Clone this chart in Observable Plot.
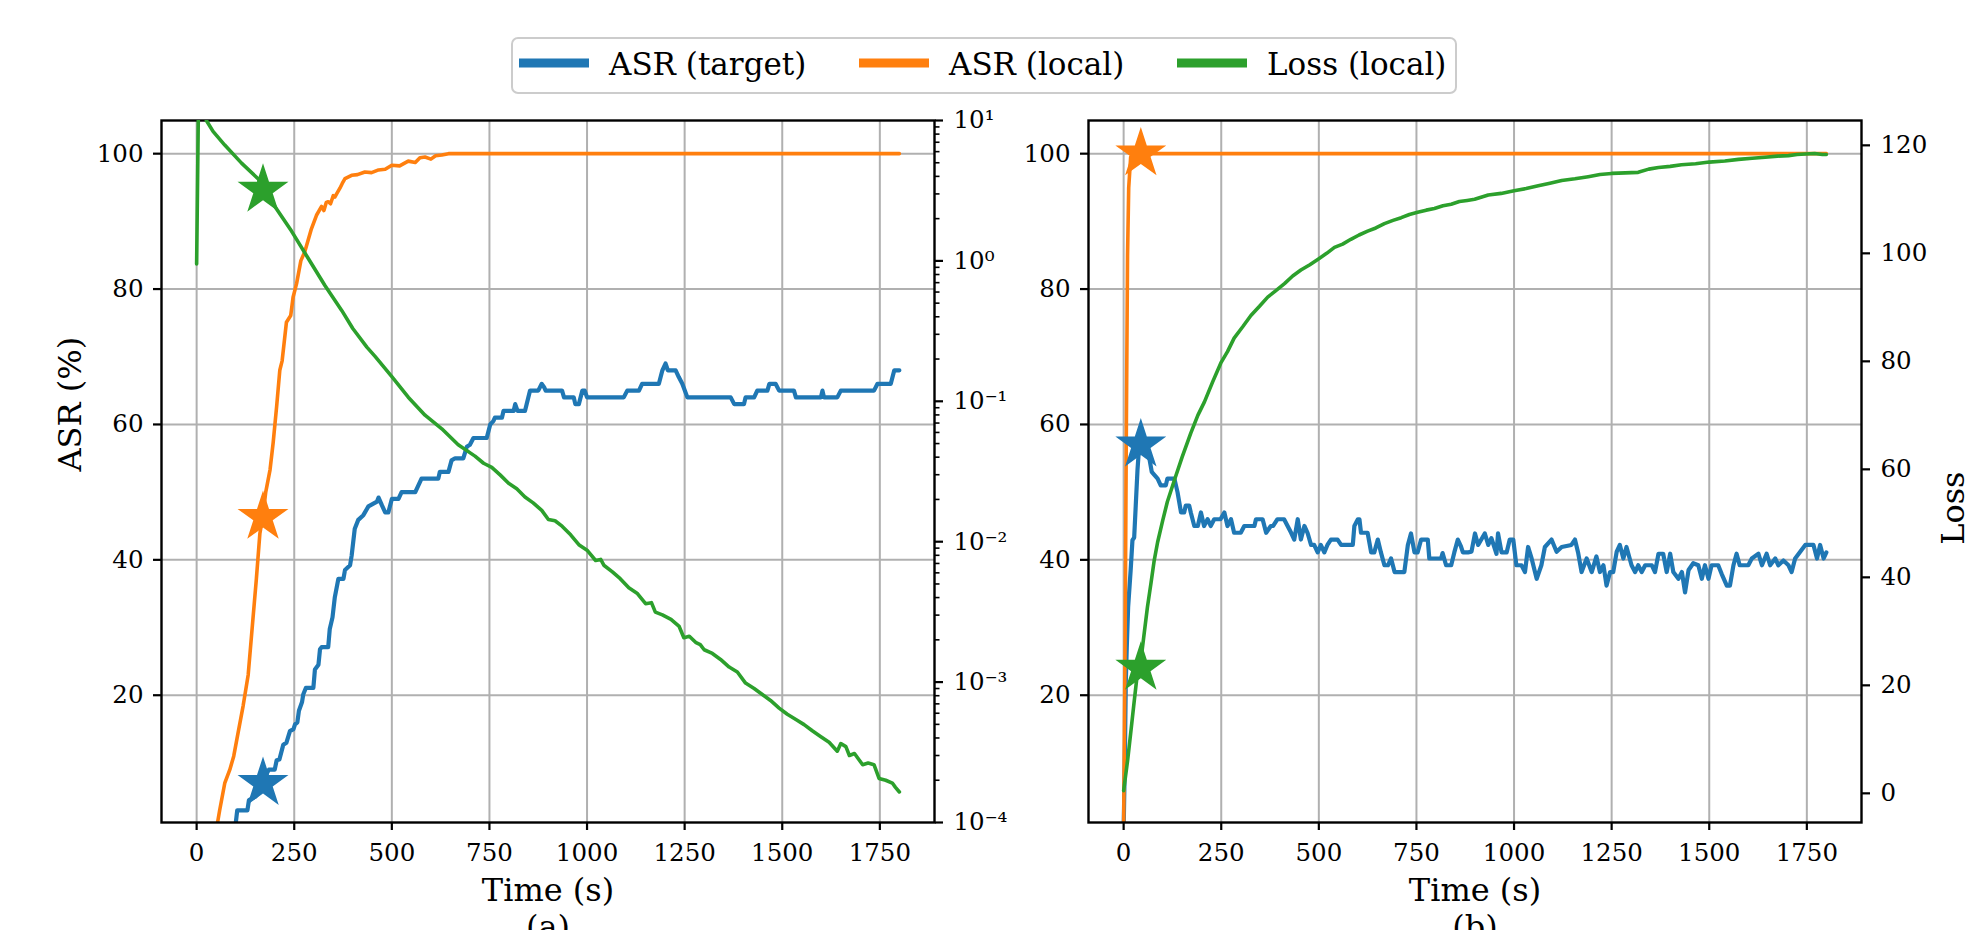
<!DOCTYPE html>
<html>
<head>
<meta charset="utf-8">
<script src="https://cdn.jsdelivr.net/npm/d3@7"></script>
<script src="https://cdn.jsdelivr.net/npm/@observablehq/plot@0.6"></script>
<style>
html, body { margin: 0; padding: 0; background: #fff; }
#fig { position: relative; width: 1978px; height: 930px; overflow: hidden; font-family: "DejaVu Serif"; background: #fff; }
.layer { position: absolute; top: 0; }
</style>
</head>
<body>
<div id="fig"></div>
<script>
// ---------------- data ----------------
const seriesNames = ["ASR (target)", "ASR (local)", "Loss (local)"];
const seriesColors = ["#1f77b4", "#ff7f0e", "#2ca02c"];
const xTicks = [0, 250, 500, 750, 1000, 1250, 1500, 1750];
const xTickLabels = ["0", "250", "500", "750", "1000", "1250", "1500", "1750"];
const asrTicks = [20, 40, 60, 80, 100];
const asrTickLabels = ["20", "40", "60", "80", "100"];
const logLossTicks = [1e-4, 1e-3, 1e-2, 1e-1, 1, 10];
const logLossTickLabels = ["10⁻⁴", "10⁻³", "10⁻²", "10⁻¹", "10⁰", "10¹"];
const logLossMinorTicks = [2e-4,3e-4,4e-4,5e-4,6e-4,7e-4,8e-4,9e-4,
  2e-3,3e-3,4e-3,5e-3,6e-3,7e-3,8e-3,9e-3,
  2e-2,3e-2,4e-2,5e-2,6e-2,7e-2,8e-2,9e-2,
  0.2,0.3,0.4,0.5,0.6,0.7,0.8,0.9,
  2,3,4,5,6,7,8,9];
const linLossTicks = [0, 20, 40, 60, 80, 100, 120];
const linLossTickLabels = ["0", "20", "40", "60", "80", "100", "120"];
const xLabel = "Time (s)";
const asrLabel = "ASR (%)";
const lossLabel = "Loss";
const panelCaptions = ["(a)", "(b)"];

// star markers: [panel a, panel b]
const starTimes = [170, 44];
const starTarget = [7, 57];
const starLocal = [46.3, 100];
const starLoss = [3.2, 23.2];

// panel (a): [time, value]
const leftTarget = [[0,0],[98,0],[102,2],[104,3],[130,3],[134,4.5],[150,5],[165,6],[180,8.5],[185,9],[200,9],[205,10.4],[212,10.5],[222,12.7],[230,13],[239,14.7],[248,15],[252,15.7],[258,16],[262,17.7],[270,19],[273,20.1],[280,21.1],[299,21.1],[303,23.8],[312,24.5],[316,26.8],[320,27.1],[337,27.1],[341,29.8],[348,31.5],[354,34.5],[363,37.2],[376,37.2],[380,38.5],[393,39.2],[397,40.6],[405,44.6],[414,45.9],[427,46.6],[440,47.9],[462,48.6],[466,49.2],[475,48],[483,47],[491,47],[500,49],[517,49],[525,50],[560,50],[568,51],[576,52],[619,52],[623,53],[645,53],[653,54.7],[662,55],[683,55],[692,56.7],[700,57],[709,58],[743,58],[752,60],[760,60.5],[764,61],[782,61],[786,62],[812,62],[816,63],[822,62],[841,62],[854,65],[875,65],[884,66],[890,65.5],[894,65],[936,65],[941,64],[966,64],[970,63],[979,63],[988,65],[994,65],[1000,64],[1094,64],[1103,65],[1133,65],[1141,66],[1184,66],[1193,68],[1201,69],[1207,68],[1227,68],[1235,67],[1244,66],[1257,64],[1368,64],[1377,63],[1402,63],[1406,64],[1428,64],[1436,65],[1462,65],[1467,66],[1483,66],[1492,65],[1530,65],[1535,64],[1599,64],[1603,65],[1607,64],[1641,64],[1650,65],[1735,65],[1744,66],[1778,66],[1787,68],[1800,68]];
const leftLocal = [[0,0],[50,0],[59,3],[72,7],[85,9],[95,11],[106,14.4],[119,18.4],[132,23],[145,31.8],[153,37.2],[162,43.9],[170,46.6],[177,50],[188,53.3],[196,57.3],[205,62.7],[213,68],[219,69.4],[230,75.1],[241,76.1],[247,78.8],[256,80.8],[267,84.2],[277,85.5],[294,88.9],[307,90.9],[320,92.2],[326,91.6],[332,92.8],[337,92.9],[343,92.6],[350,93.8],[354,93.6],[360,94.2],[367,94.9],[373,95.6],[380,96.3],[397,96.8],[412,96.9],[431,97.3],[448,97.2],[466,97.6],[483,97.7],[500,98.3],[520,98.2],[542,98.9],[560,98.7],[572,99.4],[585,99.5],[600,99.2],[612,99.7],[628,99.8],[645,100],[1800,100]];
const leftLoss = [[0,0.95],[5,16],[25,10],[42,8.36],[72,6.68],[115,4.97],[158,3.83],[170,3.3],[200,2.45],[243,1.63],[286,1.04],[329,0.665],[372,0.442],[400,0.330],[436,0.243],[457,0.209],[500,0.150],[542,0.107],[585,0.0796],[628,0.0637],[670,0.0491],[713,0.0407],[735,0.0362],[756,0.0338],[778,0.0298],[799,0.0261],[820,0.0238],[841,0.0208],[862,0.0189],[884,0.0167],[901,0.0144],[918,0.0141],[936,0.0129],[958,0.0112],[979,0.00953],[1000,0.00870],[1022,0.00735],[1035,0.00748],[1043,0.00680],[1065,0.00610],[1085,0.00545],[1107,0.00470],[1128,0.00430],[1150,0.00362],[1165,0.00368],[1175,0.00315],[1193,0.00301],[1215,0.00280],[1236,0.00249],[1248,0.00207],[1262,0.00212],[1278,0.00192],[1290,0.00185],[1300,0.00170],[1321,0.00160],[1342,0.00145],[1364,0.00128],[1385,0.00118],[1406,0.000984],[1428,0.000900],[1449,0.000817],[1470,0.000740],[1492,0.000653],[1513,0.000590],[1535,0.000542],[1556,0.000498],[1577,0.000450],[1598,0.000410],[1620,0.000373],[1641,0.000322],[1650,0.000365],[1663,0.000347],[1672,0.000300],[1685,0.000310],[1706,0.000258],[1720,0.000265],[1735,0.000258],[1748,0.000206],[1765,0.000200],[1782,0.000191],[1790,0.000178],[1800,0.000165]];

// panel (b): [time, value]
const rightTarget = [[0,0],[3,10],[5.5,21.8],[8,27],[11.5,33],[18,38.5],[22.6,42.9],[27,43.3],[31,48],[35.5,53.3],[40,57],[44,59],[48,57.3],[55,56.5],[65,55.3],[72,53],[78,52.6],[87,52],[95,51],[108,51],[112,52],[130,52],[138,50],[147,47],[155,47],[159,48],[168,48],[172,47],[181,45],[190,45],[194,46],[198,47],[206,45],[215,46],[223,45],[232,46],[248,46],[258,47],[266,45],[275,46],[283,44],[300,44],[309,45],[335,45],[339,46],[356,46],[365,44],[377,45],[383,45],[394,46],[411,46],[420,45],[429,44],[437,43],[446,46],[454,43],[463,45],[471,44],[480,42.2],[488,42.2],[497,41.1],[505,42.2],[514,41.1],[522,42.2],[531,43],[548,43],[557,42.2],[587,42.2],[591,45],[600,46],[604,46],[608,44],[625,44],[634,41.1],[642,41.1],[651,43],[659,41.1],[668,39.2],[677,39.2],[685,40.2],[694,38.2],[719,38.2],[728,42.2],[736,43.9],[745,41.1],[753,41.1],[762,43],[779,43],[783,40.2],[813,40.2],[817,41],[826,39.2],[839,39.2],[847,41.1],[856,43],[864,42],[869,41.1],[882,41.1],[891,41.2],[900,43.9],[908,42.2],[925,43.9],[934,42.2],[942,43.2],[955,40.9],[959,43.9],[968,41.1],[981,41.1],[989,43],[998,43],[1006,39.2],[1019,39.2],[1028,38.2],[1036,41.9],[1045,40.2],[1058,37.2],[1070,39.2],[1079,41.9],[1096,43],[1109,41.2],[1122,41.9],[1147,42.2],[1156,43],[1164,41.1],[1173,38.2],[1186,40.2],[1199,38.2],[1211,40.5],[1220,38.2],[1229,39.2],[1237,36.2],[1246,38.2],[1254,38.2],[1263,41.2],[1271,42.2],[1280,40.2],[1288,41.9],[1301,39.2],[1310,38.2],[1318,39.2],[1327,38.2],[1336,39.2],[1353,39.2],[1361,38.2],[1370,40.9],[1382,40.9],[1391,38.2],[1400,40.9],[1408,38.2],[1421,37.2],[1430,38.2],[1438,35.2],[1447,38.5],[1459,39.5],[1472,39.2],[1481,37.2],[1489,39.2],[1498,37.2],[1506,39.2],[1523,39.2],[1532,37.9],[1545,36.2],[1553,36.2],[1562,39.2],[1570,40.9],[1578,39.2],[1600,39.2],[1609,40.2],[1626,40.9],[1635,39.2],[1647,40.9],[1656,39.2],[1669,40.2],[1677,39.2],[1690,39.9],[1703,39.2],[1711,38.2],[1720,40.2],[1733,41.2],[1746,42.2],[1767,42.2],[1776,40.2],[1784,42.2],[1793,40.2],[1800,41.1]];
const rightLocal = [[0,0],[4,30],[7,60],[10,85],[13,95],[18,99.5],[25,100],[1800,100]];
const rightLoss = [[0,0.5],[10,6],[18,11.1],[27,17],[35,22.1],[44,24.5],[52.6,29.6],[61,34.5],[70,38.9],[78,43],[87,46.5],[100,50.5],[112,54],[131,58.2],[150,62.3],[172,66.7],[190,70],[207,72.5],[228,76.2],[249,79.7],[266,81.8],[283,84.3],[305,86.4],[326,88.5],[348,90.2],[369,91.9],[390,93.1],[412,94.4],[433,95.8],[454,96.9],[477,97.9],[500,99],[520,100],[540,101.1],[561,101.7],[582,102.6],[603,103.4],[625,104.1],[646,104.7],[668,105.5],[690,106.1],[711,106.6],[732,107.2],[753,107.6],[775,108],[796,108.3],[818,108.8],[839,109.1],[860,109.6],[880,109.8],[899,110],[934,110.8],[967,111.1],[1000,111.6],[1031,112],[1062,112.5],[1092,113],[1122,113.5],[1156,113.8],[1190,114.2],[1220,114.6],[1250,114.8],[1285,114.9],[1318,115],[1345,115.6],[1370,115.9],[1400,116.1],[1429,116.4],[1465,116.6],[1500,116.9],[1540,117.1],[1575,117.4],[1610,117.6],[1643,117.8],[1675,118],[1703,118.1],[1725,118.3],[1746,118.4],[1770,118.5],[1790,118.3],[1800,118.3]];

// ---------------- drawing ----------------
const FONT = "DejaVu Serif";
const H = 930, MT = 120, MB = 108;
const xDomain = [-90, 1890];
const STAR_R = 16;
const fig = document.getElementById("fig");

function lookup(ticks, labels) { return d => labels[ticks.indexOf(d)]; }

function basePlot(o) {
  return Plot.plot({
    width: o.width, height: H, marginLeft: o.mL, marginRight: o.mR, marginTop: MT, marginBottom: MB,
    x: {domain: xDomain},
    y: {domain: [1.2, 104.9]},
    style: {fontFamily: FONT, fontSize: "24.5px", background: "none", color: "black", overflow: "visible"},
    marks: [
      Plot.gridX({ticks: xTicks, stroke: "#b0b0b0", strokeOpacity: 1, strokeWidth: 2}),
      Plot.gridY({ticks: asrTicks, stroke: "#b0b0b0", strokeOpacity: 1, strokeWidth: 2}),
      Plot.line(o.target, {x: d => d[0], y: d => d[1], stroke: seriesColors[0], strokeWidth: 4.2, clip: true}),
      Plot.line(o.local, {x: d => d[0], y: d => d[1], stroke: seriesColors[1], strokeWidth: 3.6, clip: true}),
      Plot.dot([o.i], {x: i => starTimes[i], y: i => starTarget[i], symbol: "star", r: STAR_R, fill: seriesColors[0], stroke: "none"}),
      Plot.dot([o.i], {x: i => starTimes[i], y: i => starLocal[i], symbol: "star", r: STAR_R, fill: seriesColors[1], stroke: "none"}),
      Plot.axisX({ticks: xTicks, tickFormat: lookup(xTicks, xTickLabels), tickSize: 8, tickPadding: 13, strokeWidth: 2.2, label: null}),
      Plot.axisY({ticks: asrTicks, tickFormat: lookup(asrTicks, asrTickLabels), tickSize: 8, tickPadding: 10, strokeWidth: 2.2, label: null}),
      Plot.frame({stroke: "black", strokeWidth: 2.4}),
      Plot.text([xLabel], {text: d => d, frameAnchor: "bottom", dy: 78, lineAnchor: "bottom", fontSize: 32}),
      Plot.text([panelCaptions[o.i]], {text: d => d, frameAnchor: "bottom", dy: 115, lineAnchor: "bottom", fontSize: 32}),
      o.yLabel ? Plot.text([o.yLabel], {text: d => d, frameAnchor: "left", dx: -91, rotate: -90, fontSize: 32}) : null
    ]
  });
}

function lossPlot(o) {
  return Plot.plot({
    width: o.width, height: H, marginLeft: o.mL, marginRight: o.mR, marginTop: MT, marginBottom: MB,
    x: {domain: xDomain, axis: null},
    y: o.y,
    style: {fontFamily: FONT, fontSize: "24.5px", background: "none", color: "black", overflow: "visible"},
    marks: [
      o.minor ? Plot.axisY({anchor: "right", ticks: o.minor, tickSize: 4.5, strokeWidth: 1.6, fill: "none", tickFormat: () => "", label: null}) : null,
      Plot.axisY({anchor: "right", ticks: o.ticks, tickFormat: lookup(o.ticks, o.labels), tickSize: 8, tickPadding: 11, strokeWidth: 2.2, label: null}),
      Plot.line(o.loss, {x: d => d[0], y: d => d[1], stroke: seriesColors[2], strokeWidth: 3.6, clip: true}),
      Plot.dot([o.i], {x: i => starTimes[i], y: i => starLoss[i], symbol: "star", r: STAR_R, fill: seriesColors[2], stroke: "none"}),
      o.yLabel ? Plot.text([o.yLabel], {text: d => d, frameAnchor: "right", dx: 92, rotate: -90, fontSize: 32}) : null
    ]
  });
}

function place(svg, left) {
  const d = document.createElement("div");
  d.className = "layer";
  d.style.left = left + "px";
  d.appendChild(svg);
  fig.appendChild(d);
}

// panel (b) first, so panel (a)'s right-hand tick labels sit above it
place(basePlot({i: 1, width: 988, mL: 98, mR: 117, target: rightTarget, local: rightLocal, yLabel: null}), 990);
place(lossPlot({i: 1, width: 988, mL: 98, mR: 117, loss: rightLoss,
  y: {domain: [-5.4, 124.6]}, ticks: linLossTicks, labels: linLossTickLabels, yLabel: lossLabel}), 990);
// panel (a)
place(basePlot({i: 0, width: 990, mL: 161, mR: 56, target: leftTarget, local: leftLocal, yLabel: asrLabel}), 0);
place(lossPlot({i: 0, width: 990, mL: 161, mR: 56, loss: leftLoss,
  y: {type: "log", domain: [1e-4, 10]}, ticks: logLossTicks, labels: logLossTickLabels, minor: logLossMinorTicks}), 0);

// legend (above the plots)
const legendX = [519, 859, 1177];
const leg = d3.select(fig).append("svg").attr("class", "layer")
  .style("left", "0px").attr("width", 1978).attr("height", 110)
  .style("font-family", FONT);
leg.append("rect").attr("x", 512).attr("y", 38).attr("width", 944).attr("height", 55)
  .attr("rx", 6).attr("fill", "white").attr("fill-opacity", 0.8).attr("stroke", "#cccccc").attr("stroke-width", 2);
seriesNames.forEach((name, k) => {
  leg.append("line").attr("x1", legendX[k]).attr("x2", legendX[k] + 70).attr("y1", 63).attr("y2", 63)
    .attr("stroke", seriesColors[k]).attr("stroke-width", 9);
  leg.append("text").attr("x", legendX[k] + 90).attr("y", 75).attr("font-size", 31).attr("fill", "black").text(name);
});
</script>
</body>
</html>
